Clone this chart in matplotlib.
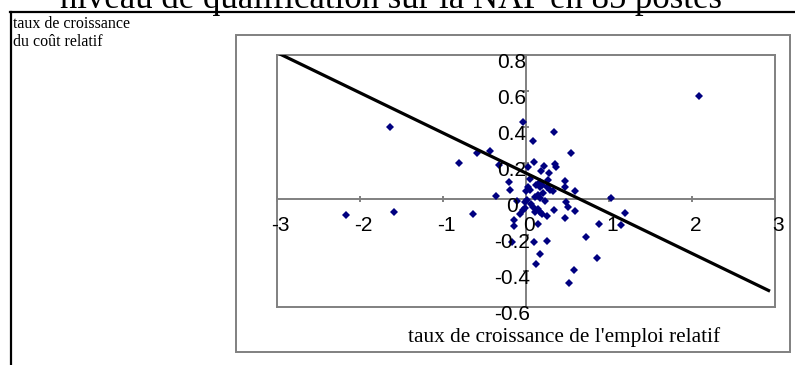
import matplotlib
matplotlib.use("Agg")
import matplotlib.pyplot as plt
from matplotlib.lines import Line2D
from matplotlib.patches import Rectangle
from matplotlib.transforms import offset_copy

W, H = 795, 365

titre = "niveau de qualification sur la NAP en 85 postes"
label_y = ["taux de croissance", "du coût relatif"]
label_x = "taux de croissance de l'emploi relatif"

# taux de croissance de l'emploi relatif (x) et du coût relatif (y)
emploi = [-2.16, -1.59, -1.63, -0.80, -0.59, -0.635, -0.434, -0.32, -0.36, -0.205,
          -0.19, -0.165, -0.137, -0.137, -0.112, -0.072, -0.04, -0.012, -0.012, -0.036,
          0.0, 0.028, 0.048, 0.048, 0.084, 0.104, 0.18, 0.217, 0.337, 0.349,
          0.361, 0.277, 0.538, 0.47, 0.466, 0.59, 1.03, 0.169, 0.108, 0.169,
          0.229, 0.337, 0.482, 0.51, 0.59, 1.19, 1.15, 0.88, 0.73, 0.86,
          0.58, 0.52, 0.249, 0.169, 0.12, 0.096, 0.149, 0.249, 0.47, 0.088,
          0.149, 0.169, 0.108, 0.189, 2.08, 0.189, 0.249, 0.289, 0.209, 0.149,
          0.02, 0.117, 0.33, 0.008, 0.169, 0.27, 0.06]
cout = [-0.09, -0.07, 0.40, 0.20, 0.255, -0.085, 0.265, 0.19, 0.018, 0.095,
        0.05, -0.237, -0.117, -0.15, -0.011, -0.08, -0.061, -0.048, -0.015, 0.43,
        0.046, 0.176, 0.05, 0.111, 0.324, 0.207, 0.157, 0.183, 0.374, 0.194,
        0.176, 0.146, 0.257, 0.102, 0.068, 0.046, 0.009, 0.065, 0.013, 0.004,
        -0.011, -0.061, -0.018, -0.043, -0.067, -0.074, -0.141, -0.139, -0.209, -0.326,
        -0.394, -0.463, -0.233, -0.306, -0.361, -0.237, -0.139, -0.094, -0.102, -0.043,
        -0.052, -0.07, -0.07, -0.08, 0.575, 0.078, 0.068, 0.05, 0.032, 0.022,
        0.068, 0.078, 0.044, -0.006, 0.096, 0.105, -0.025]

# droite de tendance
pente = -0.223
ordonnee = 0.145
trend_x = [-2.97, 2.94]

xticks = [-3, -2, -1, 0, 1, 2, 3]
yticks = [0.8, 0.6, 0.4, 0.2, 0, -0.2, -0.4, -0.6]

GRIS = "#808080"
NAVY = "#000080"


def fx(px):
    return px / W


def fy(py):
    return 1 - py / H


fig = plt.figure(figsize=(W / 100, H / 100), dpi=100)
fig.patch.set_facecolor("white")

# cadre de la page
fig.add_artist(Line2D([fx(10), fx(795)], [fy(12), fy(12)], color="black", lw=1.6,
                      transform=fig.transFigure))
fig.add_artist(Line2D([fx(11), fx(11)], [fy(12), fy(365)], color="black", lw=1.6,
                      transform=fig.transFigure))

fig.text(fx(60), fy(8.5), titre, fontsize=25, family="Liberation Serif",
         va="baseline", ha="left")
for i, ligne in enumerate(label_y):
    fig.text(fx(13), fy(28 + 18 * i), ligne, fontsize=11.5, family="Liberation Serif",
             va="baseline", ha="left")

# zone du graphique
fig.add_artist(Rectangle((fx(235.7), fy(352.3)), fx(790) - fx(235.7), fy(34.5) - fy(352.3),
                         transform=fig.transFigure, fill=False, ec=GRIS, lw=1.4))

ax = fig.add_axes([fx(276.7), fy(307.3), fx(775) - fx(276.7), fy(55) - fy(307.3)])
ax.set_xlim(-3, 3)
ax.set_ylim(-0.6, 0.8)
for s in ax.spines.values():
    s.set_color(GRIS)
    s.set_linewidth(1.4)
ax.set_xticks([])
ax.set_yticks([])

ax.axhline(0, color=GRIS, lw=1.4, zorder=1)
ax.axvline(0, color=GRIS, lw=1.4, zorder=1)
ax.plot(xticks, [0] * len(xticks), ls="none", marker="|", ms=5, mew=1.4, color=GRIS,
        zorder=1, clip_on=False)
ax.plot([0] * len(yticks), yticks, ls="none", marker="_", ms=5, mew=1.4, color=GRIS,
        zorder=1, clip_on=False)

ax.plot(emploi, cout, ls="none", marker="D", ms=4.0, mew=0, color=NAVY, zorder=3)

trend_y = [ordonnee + pente * x for x in trend_x]
ax.plot(trend_x, trend_y, color="black", lw=2.3, zorder=4, solid_capstyle="butt")

# étiquettes des axes
tx = offset_copy(ax.transData, fig=fig, x=3.5, y=-31.4, units="dots")
for v in xticks:
    ax.text(v, 0, f"{v:g}", transform=tx, ha="center", va="baseline",
            fontsize=15, family="Liberation Sans", zorder=5, clip_on=False)
ty = offset_copy(ax.transData, fig=fig, x=-14, y=-13, units="dots")
for v in yticks:
    ax.text(0, v, f"{v:g}", transform=ty, ha="center", va="baseline",
            fontsize=15, family="Liberation Sans", zorder=5, clip_on=False)

fig.text(fx(564.5), fy(342), label_x, fontsize=15.3, family="Liberation Serif",
         va="baseline", ha="center")

fig.savefig("out.png", dpi=100)
